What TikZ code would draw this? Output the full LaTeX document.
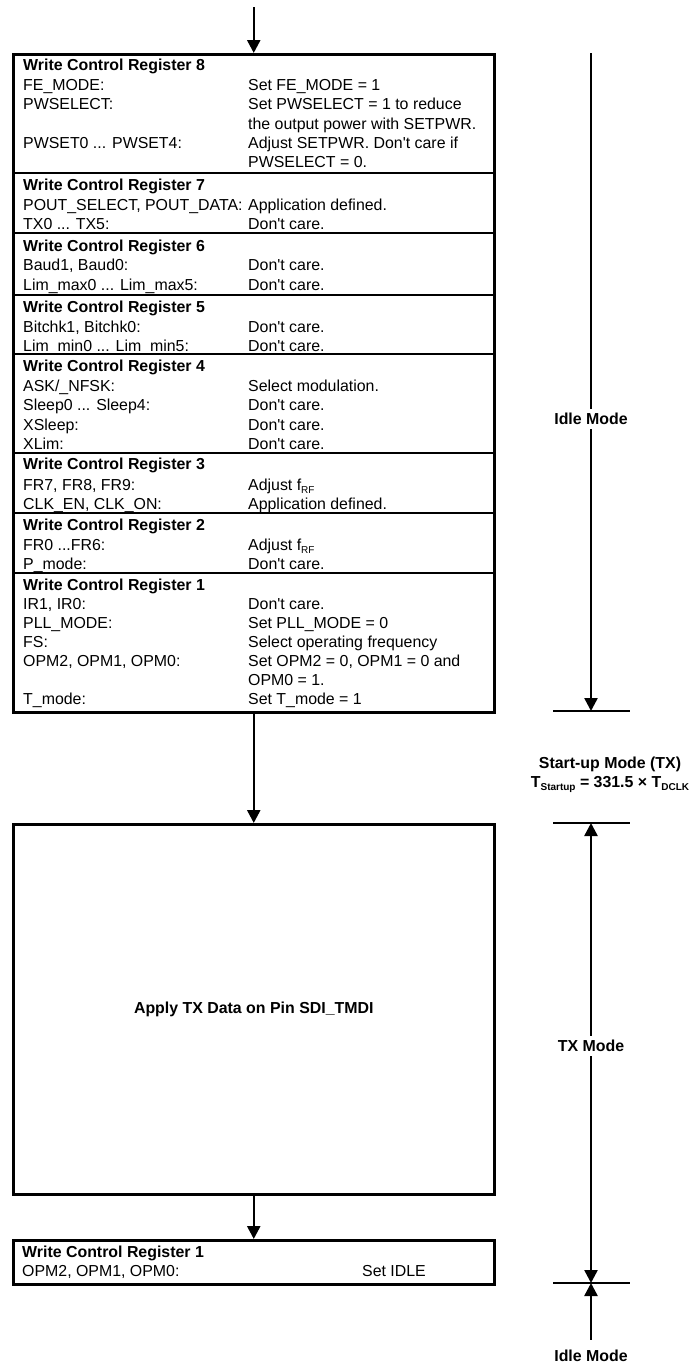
\documentclass[tikz,border=0pt]{standalone}
\usepackage{fontspec}
\newfontfamily\hv{Liberation Sans}
\usetikzlibrary{arrows.meta}
\newcommand\sub[1]{\raisebox{-3.5pt}{\fontsize{10}{10}\selectfont #1}}
\newcommand\rw[3]{%
  \node[txt] at (23,{-(#1+5.8)}) {#2};
  \node[txt] at (248,{-(#1+5.8)}) {#3};}
\newcommand\hdr[2]{\node[hd] at (23,{-(#1+5.8)}) {#2};}
\begin{document}
\begin{tikzpicture}[x=1pt,y=1pt,
  every node/.style={font=\hv\fontsize{15.9}{19.4}\selectfont, inner sep=0pt},
  ln/.style={line width=2.5pt},
  arr/.style={ln,-{Triangle[length=13pt,width=13pt]}},
  boxst/.style={draw, line width=2.5pt, minimum width=481pt, anchor=north west},
  lbl/.style={font=\hv\bfseries\fontsize{15.9}{19.4}\selectfont, inner sep=4pt},
  txt/.style={anchor=base west},
  hd/.style={anchor=base west, font=\hv\bfseries\fontsize{15.9}{19.4}\selectfont}
]
\useasboundingbox (0,0) rectangle (692,-1365);

% ---------- upper register box ----------
\node[boxst, minimum height=658pt] (box1) at (12,-53) {};
\foreach \y in {173,233,295,354,453,513,573}
  \draw[line width=2.2pt] (box1.west |- 0,-\y) -- (box1.east |- 0,-\y);

\hdr{65}{Write Control Register 8}
\rw{84.4}{FE\_MODE:}{Set FE\_MODE = 1}
\rw{103.8}{PWSELECT:}{Set PWSELECT = 1 to reduce}
\rw{123.2}{}{the output power with SETPWR.}
\rw{142.6}{PWSET0 ... PWSET4:}{Adjust SETPWR. Don't care if}
\rw{162}{}{PWSELECT = 0.}

\hdr{185}{Write Control Register 7}
\rw{204.4}{POUT\_SELECT, POUT\_DATA:}{Application defined.}
\rw{223.8}{TX0 ... TX5:}{Don't care.}

\hdr{245.5}{Write Control Register 6}
\rw{265}{Baud1, Baud0:}{Don't care.}
\rw{284.4}{Lim\_max0 ... Lim\_max5:}{Don't care.}

\hdr{307}{Write Control Register 5}
\rw{326.4}{Bitchk1, Bitchk0:}{Don't care.}
\rw{345.8}{Lim\_min0 ... Lim\_min5:}{Don't care.}

\hdr{366}{Write Control Register 4}
\rw{385.4}{ASK/\_NFSK:}{Select modulation.}
\rw{404.8}{Sleep0 ... Sleep4:}{Don't care.}
\rw{424.2}{XSleep:}{Don't care.}
\rw{443.6}{XLim:}{Don't care.}

\hdr{464}{Write Control Register 3}
\rw{484.4}{FR7, FR8, FR9:}{Adjust f\sub{RF}}
\rw{503.8}{CLK\_EN, CLK\_ON:}{Application defined.}

\hdr{525}{Write Control Register 2}
\rw{544.4}{FR0 ...FR6:}{Adjust f\sub{RF}}
\rw{563.8}{P\_mode:}{Don't care.}

\hdr{584.5}{Write Control Register 1}
\rw{603.5}{IR1, IR0:}{Don't care.}
\rw{622.5}{PLL\_MODE:}{Set PLL\_MODE = 0}
\rw{641.5}{FS:}{Select operating frequency}
\rw{660.5}{OPM2, OPM1, OPM0:}{Set OPM2 = 0, OPM1 = 0 and}
\rw{679.5}{}{OPM0 = 1.}
\rw{698.5}{T\_mode:}{Set T\_mode = 1}

% ---------- TX box ----------
\node[boxst, minimum height=370pt] (box2) at (12,-823) {};
\node[lbl] (apply) at (box2.center) {Apply TX Data on Pin SDI\_TMDI};

% ---------- final box ----------
\node[boxst, minimum height=44pt] (box3) at (12,-1239) {};
\node[hd] (b3t) at (22,{-(1252+5.8)}) {Write Control Register 1};
\node[txt] (b3l) at (22,{-(1271+5.8)}) {OPM2, OPM1, OPM0:};
\node[txt] (b3r) at (362,{-(1271+5.8)}) {Set IDLE};

% ---------- flow arrows ----------
\coordinate (start) at (box1.north |- 0,-7);
\draw[arr] (start) -- (box1.north);
\draw[arr] (box1.south) -- (box2.north);
\draw[arr] (box2.south) -- (box3.north);

% ---------- mode timeline ----------
\coordinate (rtop) at (591,-53);
\coordinate (m1) at (591,-711);
\coordinate (m2) at (591,-823);
\coordinate (m3) at (591,-1283);
\foreach \m in {m1,m2,m3}
  \draw[ln] ([xshift=-38pt]\m) -- ([xshift=39pt]\m);

\node[lbl] (idle1) at (591,-419) {Idle Mode};
\draw[ln] (rtop) -- (idle1.north);
\draw[arr] (idle1.south) -- (m1);

\node[lbl, inner sep=0pt, anchor=base] (su1) at (610,-768) {Start-up Mode (TX)};
\node[lbl, inner sep=0pt, anchor=base] (su2) at (610,-787) {T\sub{Startup} = 331.5 × T\sub{DCLK}};

\node[lbl] (txm) at (591,-1046) {TX Mode};
\draw[arr] (txm.north) -- (m2);
\draw[arr] (txm.south) -- (m3);

\node[lbl] (idle2) at (591,-1356) {Idle Mode};
\draw[arr] ([yshift=6pt]idle2.north) -- (m3);
\end{tikzpicture}
\end{document}
